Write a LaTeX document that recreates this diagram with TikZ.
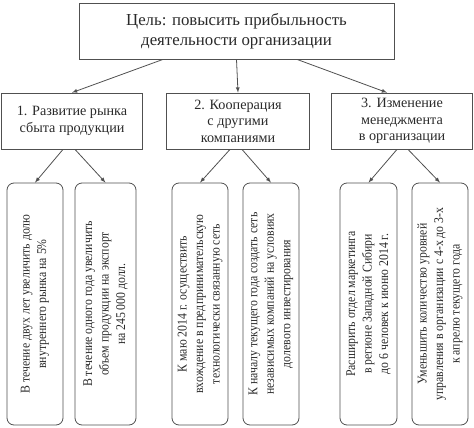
\documentclass[tikz,border=0pt]{standalone}
\usepackage{fontspec}
\setmainfont{Liberation Serif}
\newfontfamily\taskfont[FakeStretch=0.88]{Liberation Serif}
\usetikzlibrary{positioning}
\usetikzlibrary{arrows}

\definecolor{linegray}{HTML}{505050}
\definecolor{textgray}{HTML}{2A2A2A}

\tikzset{
  goalbox/.style={draw=linegray, line width=0.8pt, minimum width=315pt, minimum height=56pt,
    align=center, text=textgray, font=\fontsize{16.8}{20}\selectfont},
  dirbox/.style={draw=linegray, line width=0.8pt, minimum width=141pt, minimum height=56pt,
    align=center, text=textgray, font=\fontsize{14.2}{16.5}\selectfont},
  taskbox/.style={draw=linegray, line width=0.8pt, rounded corners=7pt, rotate=90,
    minimum width=242pt, minimum height=56pt, inner sep=2pt,
    align=center, text=textgray, font=\taskfont\fontsize{13.4}{16.5}\selectfont},
  link/.style={-latex, draw=linegray, line width=0.8pt}
}

\begin{document}
\begin{tikzpicture}[x=1pt,y=-1pt]
\useasboundingbox (0,0) rectangle (474,428);

\node[goalbox](goal) at (236.5,31){Цель: повысить прибыльность\\деятельности организации};

\node[dirbox](dirA) at (72,121){1. Развитие рынка\\сбыта продукции};
\node[dirbox, minimum width=143pt](dirB) at (238,121){2. Кооперация\\с другими\\компаниями};
\node[dirbox](dirC) at (402,121){3. Изменение\\менеджмента\\в организации};

\node[taskbox](taskA) at (35,304){В течение двух лет увеличить долю\\внутреннего рынка на 5\%};
\node[taskbox, minimum height=61pt](taskB) at (105.5,304){В течение одного года увеличить\\объем продукции на экспорт\\на 245\,000 долл.};
\node[taskbox](taskC) at (200,304){К маю 2014 г. осуществить\\вхождение в предпринимательскую\\технологически связанную сеть};
\node[taskbox](taskD) at (271,304){К началу текущего года создать сеть\\независимых компаний на условиях\\долевого инвестирования};
\node[taskbox, minimum height=57pt](taskE) at (368.5,304){Расширить отдел маркетинга\\в регионе Западной Сибири\\до 6 человек к июню 2014 г.};
\node[taskbox](taskF) at (440,304){Уменьшить количество уровней\\управления в организации с 4-х до 3-х\\к апрелю текущего года};

\path
([xshift=-73.5pt]goal.south) edge[link] (dirA.north)
(goal.south) edge[link] (dirB.north)
([xshift=60.5pt]goal.south) edge[link] ([xshift=-15pt]dirC.north)
([xshift=-9pt]dirA.south) edge[link] (taskA.east)
([xshift=3pt]dirA.south) edge[link] (taskB.east)
([xshift=-8pt]dirB.south) edge[link] (taskC.east)
([xshift=4pt]dirB.south) edge[link] (taskD.east)
([xshift=-5pt]dirC.south) edge[link] (taskE.east)
([xshift=6pt]dirC.south) edge[link] (taskF.east);
\end{tikzpicture}
\end{document}
